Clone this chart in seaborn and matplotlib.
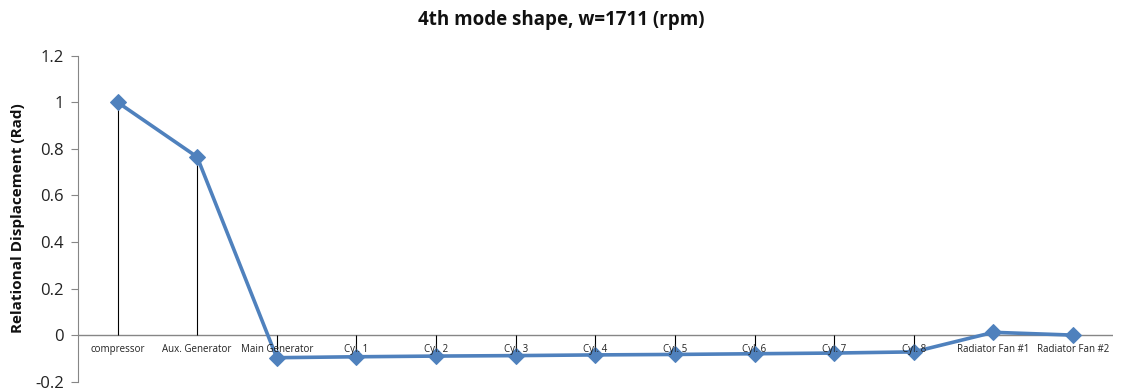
import matplotlib
matplotlib.use("Agg")
import matplotlib.pyplot as plt
import seaborn as sns
import pandas as pd
import numpy as np

categories = ["compressor", "Aux. Generator", "Main Generator", "Cyl. 1", "Cyl. 2", "Cyl. 3",
              "Cyl. 4", "Cyl. 5", "Cyl. 6", "Cyl. 7", "Cyl. 8", "Radiator Fan #1", "Radiator Fan #2"]
displacement = [1.0, 0.765, -0.097, -0.093, -0.090, -0.088, -0.085, -0.083, -0.080, -0.077, -0.072, 0.012, 0.0]
y_ticks = [-0.2, 0, 0.2, 0.4, 0.6, 0.8, 1.0, 1.2]
y_tick_labels = ["-0.2", "0", "0.2", "0.4", "0.6", "0.8", "1", "1.2"]

sns.set_theme(style="white")
plt.rcParams['font.family'] = ['Open Sans', 'DejaVu Sans']

df = pd.DataFrame({"pos": np.arange(len(categories)), "val": displacement, "cat": categories})

fig = plt.figure(figsize=(11.23, 3.92), dpi=100)
ax = fig.add_axes([0.0692, 0.0263, 0.9218, 0.8317])

# drop lines
ax.vlines(df["pos"], 0, df["val"], color="black", linewidth=0.8, zorder=2)
ax.axhline(0, color="#868686", linewidth=1.0, zorder=1)

sns.lineplot(data=df, x="pos", y="val", ax=ax, color="#4F81BD", linewidth=2.6,
             marker="D", markersize=8, markeredgecolor="#4F81BD", zorder=3)

ax.set_xlim(-0.5, len(categories) - 0.5)
ax.set_ylim(-0.2, 1.2)
ax.set_xticks([])
ax.set_yticks(y_ticks)
ax.set_yticklabels(y_tick_labels, fontsize=12, color="#222222")
ax.tick_params(axis="y", which="major", left=True, length=5, width=0.8, color="#868686", pad=5)

for i, c in enumerate(categories):
    ax.text(i, -0.037, c, ha="center", va="top", fontsize=7, color="#222222", zorder=4)

for s in ["top", "right", "bottom"]:
    ax.spines[s].set_visible(False)
ax.spines["left"].set_color("#868686")
ax.spines["left"].set_linewidth(0.8)

ax.set_xlabel("")
ax.set_ylabel("")
fig.text(0.016, 1 - 218 / 392, "Relational Displacement (Rad)", rotation=90, ha="center", va="center",
         fontsize=11, fontweight="bold", color="#111111")
fig.text(0.5, 1 - 20 / 392, "4th mode shape, w=1711 (rpm)", ha="center", va="center",
         fontsize=13.5, fontweight="bold", color="#111111")

fig.savefig("out.png", dpi=100, facecolor="white")
